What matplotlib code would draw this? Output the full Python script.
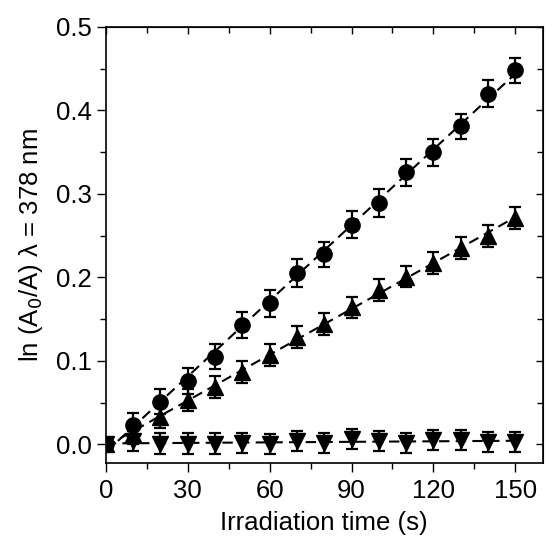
import numpy as np
import matplotlib
matplotlib.use("Agg")
from matplotlib import pyplot as plt
from matplotlib.ticker import MultipleLocator

plt.rcParams['font.family'] = ['Liberation Sans', 'DejaVu Sans']

time_s = [0, 10, 20, 30, 40, 50, 60, 70, 80, 90, 100, 110, 120, 130, 140, 150]
circles = [0.0, 0.023, 0.051, 0.076, 0.105, 0.143, 0.169, 0.205, 0.228, 0.263,
           0.289, 0.326, 0.350, 0.381, 0.420, 0.448]
circles_err = [0.0, 0.014, 0.015, 0.016, 0.015, 0.016, 0.016, 0.017, 0.015, 0.016,
               0.017, 0.016, 0.016, 0.015, 0.016, 0.015]
up_tri = [0.0, 0.012, 0.033, 0.053, 0.069, 0.087, 0.107, 0.129, 0.144, 0.164,
          0.185, 0.201, 0.217, 0.235, 0.250, 0.271]
up_err = [0.0, 0.012, 0.013, 0.013, 0.013, 0.013, 0.013, 0.013, 0.013, 0.013,
          0.013, 0.013, 0.013, 0.013, 0.013, 0.013]
down_tri = [0.0, 0.004, 0.001, 0.001, 0.001, 0.002, 0.0, 0.004, 0.002, 0.006,
            0.004, 0.002, 0.005, 0.005, 0.003, 0.003]
down_err = [0.0, 0.012, 0.012, 0.012, 0.012, 0.012, 0.012, 0.012, 0.012, 0.012,
            0.012, 0.012, 0.012, 0.012, 0.012, 0.012]

fig = plt.figure(figsize=(5.47, 5.43), dpi=100)
ax = fig.add_axes([105.7/547, 1 - 462.7/543, (542.7-105.7)/547, (462.7-27)/543])

x = np.array(time_s)
for ys, err, mk in [(circles, circles_err, 'o'), (up_tri, up_err, '^'), (down_tri, down_err, 'v')]:
    ys = np.array(ys)
    p = np.polyfit(x, ys, 1)
    ax.plot(x, np.polyval(p, x), color='black', ls=(0, (5, 3)), lw=1.5, zorder=1)
    ax.errorbar(x, ys, yerr=err, fmt=mk, color='black', ms=11, capsize=4.5,
                elinewidth=1.6, capthick=1.6, zorder=2)

ax.set_xlim(0, 160)
ax.set_ylim(-0.022, 0.5)
ax.xaxis.set_major_locator(MultipleLocator(30))
ax.xaxis.set_minor_locator(MultipleLocator(15))
ax.yaxis.set_major_locator(MultipleLocator(0.1))
ax.yaxis.set_minor_locator(MultipleLocator(0.05))
ax.yaxis.set_major_formatter(plt.FormatStrFormatter('%.1f'))
ax.tick_params(which='both', direction='out', labelsize=18.5, width=1)
ax.tick_params(which='major', length=6.5)
ax.tick_params(which='minor', length=4)
ax.tick_params(axis='x', which='major', pad=5)

# mirrored inward ticks on top and right
for side in ['x', 'y']:
    sec = ax.secondary_xaxis('top') if side == 'x' else ax.secondary_yaxis('right')
    axis = sec.xaxis if side == 'x' else sec.yaxis
    axis.set_major_locator(MultipleLocator(30 if side == 'x' else 0.1))
    axis.set_minor_locator(MultipleLocator(15 if side == 'x' else 0.05))
    sec.tick_params(which='both', direction='in', labelsize=0, width=1)
    sec.tick_params(which='major', length=5)
    sec.tick_params(which='minor', length=4)
    axis.set_ticklabels([])

for s in ax.spines.values():
    s.set_linewidth(1.2)

ax.set_xlabel('Irradiation time (s)', fontsize=18.5, labelpad=6)
ax.set_ylabel('ln (A$_0$/A) λ = 378 nm', fontsize=18.5, labelpad=8)

fig.savefig('out.png', dpi=100)
